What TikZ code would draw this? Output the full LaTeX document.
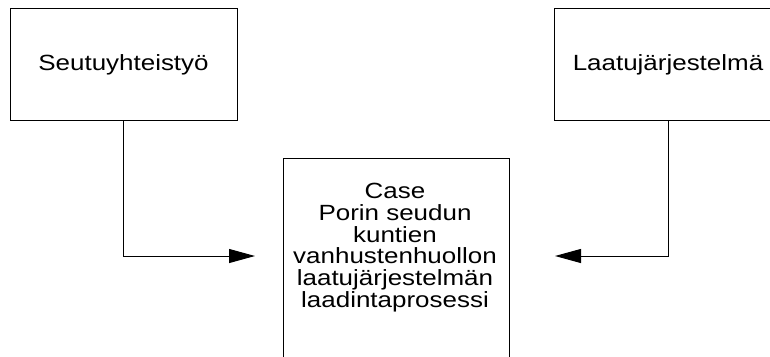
\documentclass[tikz,border=0pt]{standalone}
\usepackage{fontspec}
\setmainfont{Liberation Sans}[FakeStretch=1.18]
\usetikzlibrary{arrows.meta}
\begin{document}
\begin{tikzpicture}[x=1pt,y=-1pt,
  box/.style={draw=black, line width=1pt, inner sep=0pt},
  lbl/.style={font=\fontsize{22}{21.7}\selectfont, align=center},
  conn/.style={draw=black, line width=1pt, -{Triangle[length=26pt,width=14pt]}}]
\useasboundingbox (0,0) rectangle (770,356);
\clip (0,0) rectangle (770,356);
\node[box, lbl, minimum width=227pt, minimum height=112pt] (seutu) at (123.5,64.5) {Seutuyhteistyö};
\node[box, lbl, minimum width=228pt, minimum height=112pt] (laatu) at (668,64.5) {Laatujärjestelmä};
\node[box, minimum width=226pt, minimum height=220pt, anchor=north] (case) at (396,158) {};
\node[lbl, inner sep=0pt, anchor=north] (casetext) at (395,183.3) {Case\\Porin seudun\\kuntien\\vanhustenhuollon\\laatujärjestelmän\\laadintaprosessi};
\coordinate (tipL) at (255,256);
\coordinate (tipR) at (555,256);
\draw[conn] (seutu.south) |- (tipL);
\draw[conn] (laatu.south) |- (tipR);
\end{tikzpicture}
\end{document}
